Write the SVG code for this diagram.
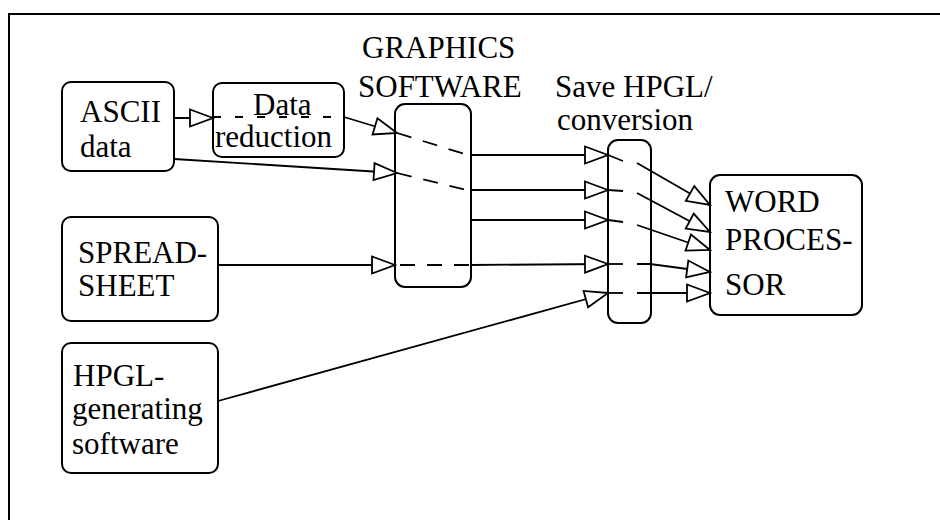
<svg xmlns="http://www.w3.org/2000/svg" width="940" height="520" viewBox="0 0 940 520">
  <style>
    text { font-family: "Liberation Serif", "Times New Roman", serif; font-size: 31px; fill: #000; }
    .box { fill: #fff; stroke: #000; stroke-width: 2; }
    .ln { fill: none; stroke: #000; stroke-width: 1.8; }
    .arr { marker-end: url(#open); }
    .dash { fill: none; stroke: #000; stroke-width: 1.8; stroke-dasharray: 15 12; }
    .frame { fill: none; stroke: #000; stroke-width: 2; }
  </style>
  <defs>
    <marker id="open" markerUnits="userSpaceOnUse" viewBox="-25 -11 27 22" markerWidth="27" markerHeight="22" refX="0" refY="0" orient="auto">
      <path d="M0 0 L-23 -8.5 L-23 8.5 Z" fill="#fff" stroke="#000" stroke-width="1.8" stroke-linejoin="miter"/>
    </marker>
  </defs>

  <rect width="940" height="520" fill="#fff"/>
  <!-- page frame -->
  <path class="frame" d="M9 520 L9 14 L940 14"/>

  <!-- processing stage boxes -->
  <g id="graphics-software">
    <rect class="box" x="395" y="104" width="76" height="183" rx="10"/>
    <text x="362" y="58">GRAPHICS</text>
    <text x="358" y="97">SOFTWARE</text>
  </g>
  <g id="save-hpgl-conversion">
    <rect class="box" x="608" y="140" width="43" height="183" rx="10"/>
    <text x="555" y="97">Save HPGL/</text>
    <text x="557" y="130">conversion</text>
  </g>

  <g id="ascii-data">
    <rect class="box" x="62" y="82" width="112" height="89" rx="9"/>
    <text x="80" y="122">ASCII</text>
    <text x="80" y="157">data</text>
  </g>
  <g id="data-reduction">
    <rect class="box" x="213" y="83" width="131" height="74" rx="9"/>
    <text x="253" y="115">Data</text>
    <text x="215" y="147">reduction</text>
  </g>
  <g id="spreadsheet">
    <rect class="box" x="62" y="217" width="156" height="104" rx="9"/>
    <text x="78" y="263">SPREAD-</text>
    <text x="78" y="296">SHEET</text>
  </g>
  <g id="hpgl-generating-software">
    <rect class="box" x="62" y="343" width="156" height="130" rx="9"/>
    <text x="73" y="386">HPGL-</text>
    <text x="72" y="419">generating</text>
    <text x="72" y="454">software</text>
  </g>
  <g id="word-processor">
    <rect class="box" x="710" y="175" width="152" height="140" rx="10"/>
    <text x="725" y="212">WORD</text>
    <text x="725" y="250">PROCES-</text>
    <text x="725" y="295">SOR</text>
  </g>

  <g id="connectors">
    <!-- ASCII data into data reduction, passing through it -->
    <path class="ln arr" d="M174 118 L213 118"/>
    <path class="ln" d="M213 117 L344 117" stroke-dasharray="8 14"/>
    <path class="ln arr" d="M344 117 L397 133"/>
    <path class="dash" d="M397 133 L471 156"/>
    <path class="ln arr" d="M471 155 L608 155"/>

    <!-- ASCII data straight to graphics software -->
    <path class="ln arr" d="M174 159 L397 173"/>
    <path class="dash" d="M397 173 L471 191"/>
    <path class="ln arr" d="M471 190 L608 190"/>

    <!-- graphics software output -->
    <path class="ln arr" d="M471 220 L608 220"/>

    <!-- spreadsheet through graphics software -->
    <path class="ln arr" d="M218 265 L395 265"/>
    <path class="dash" d="M395 265 L471 265" stroke-dashoffset="-5"/>
    <path class="ln arr" d="M471 265 L608 264"/>

    <!-- HPGL-generating software to conversion -->
    <path class="ln arr" d="M218 401 L608 293"/>

    <!-- conversion to word processor -->
    <path class="ln" d="M608 155 L623 161"/>
    <path class="ln arr" d="M637 163 L710 205"/>
    <path class="ln" d="M608 190 L623 191"/>
    <path class="ln arr" d="M637 193 L710 232"/>
    <path class="ln" d="M608 220 L623 222"/>
    <path class="ln arr" d="M637 225 L710 250"/>
    <path class="ln" d="M608 264 L623 264"/>
    <path class="ln arr" d="M637 264 L650 264 L710 272"/>
    <path class="ln" d="M608 293 L623 293"/>
    <path class="ln arr" d="M637 293 L710 293"/>
  </g>
</svg>
